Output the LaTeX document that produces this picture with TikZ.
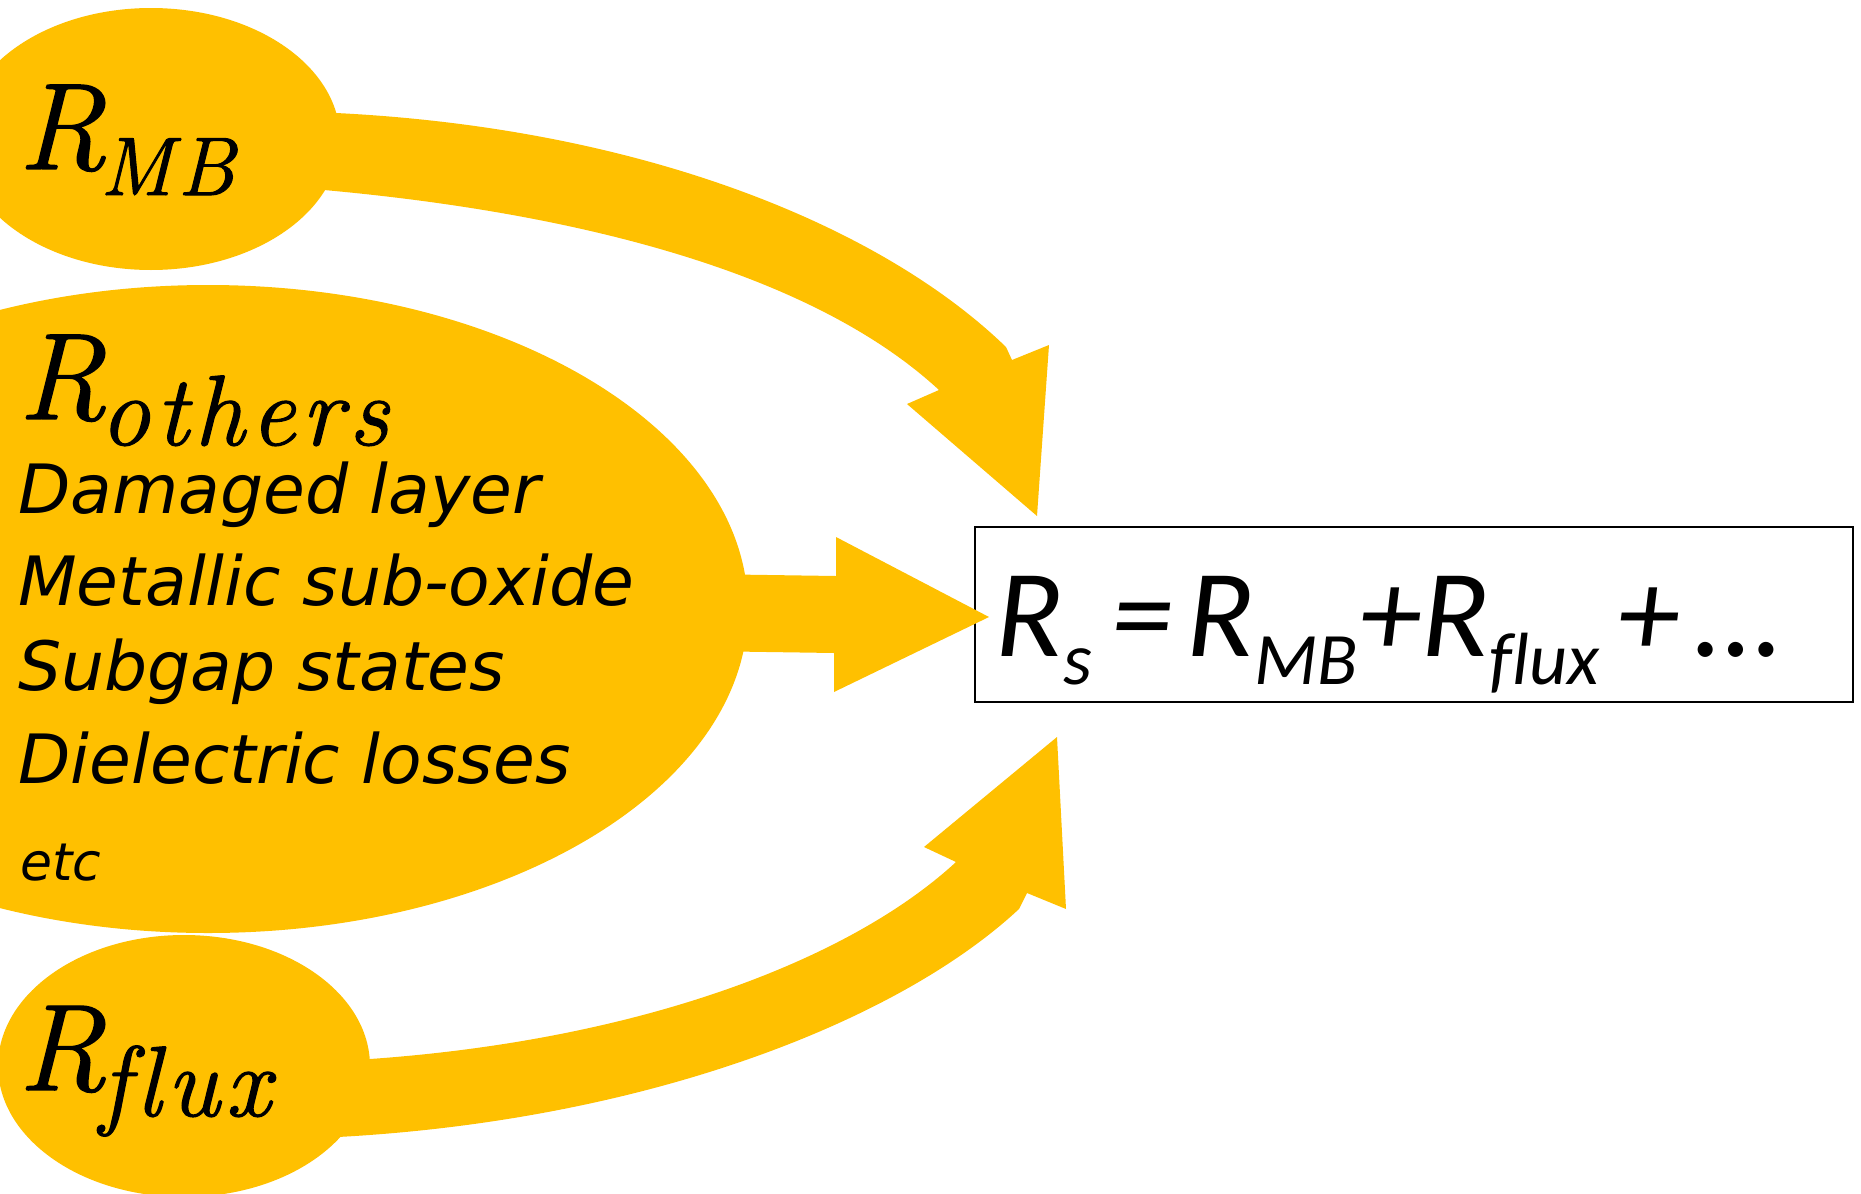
\documentclass[tikz,border=0pt]{standalone}
\usepackage{fontspec}
\usetikzlibrary{shapes.geometric}
\newfontfamily\carfont{Carlito}[Ligatures=NoCommon]
\newfontfamily\handfont{DejaVu Sans}
\newfontfamily\lmfont{Latin Modern Roman}[FakeBold=1.2,Ligatures=NoCommon]
\newfontfamily\lmsubfont{Latin Modern Roman}[FakeBold=1.2,LetterSpace=6,Ligatures=NoCommon]
\definecolor{gold}{HTML}{FFC000}
\newcommand\Rlab[2]{{\lmfont\itshape\fontsize{123}{123}\selectfont R}\kern-6pt\raisebox{-26pt}{\lmsubfont\itshape\fontsize{#1}{#1}\selectfont #2}}
\newcommand\fsub[1]{\raisebox{-28pt}{\fontsize{74}{74}\selectfont #1}}
\begin{document}
\begin{tikzpicture}[x=1pt,y=-1pt,
  blob/.style={ellipse, fill=gold, draw=none, inner sep=0pt},
  blockarrow/.style={fill=gold, draw=none},
  lbl/.style={anchor=base west, inner sep=0pt, text=black},
  hand/.style={lbl, font=\handfont\itshape\fontsize{68}{68}\selectfont}]
\useasboundingbox (0,0) rectangle (1861,1194);
% ellipses
\node[blob, minimum width=378pt, minimum height=262pt] (rmb) at (151,139) {};
\node[blob, minimum width=1080pt, minimum height=648pt] (roth) at (208,609) {};
\node[blob, minimum width=372pt, minimum height=262pt] (rflux) at (184,1066) {};
% result box
\node[draw, line width=2pt, minimum width=878pt, minimum height=175pt, inner sep=0pt, anchor=north west] (rs) at (974,526) {};
% block arrows
\fill[blockarrow] (280,110) -- (336,113) .. controls (640,128) and (880,225) .. (1006,347) -- (1012,360) -- (1049,345) -- (1037,516) -- (907,404) -- (939,390) .. controls (820,280) and (600,215) .. (324,190) -- (280,187) -- cycle;
\fill[blockarrow] (700,574) -- (836,576) -- (836,537) -- (989,617) -- (834,692) -- (834,653) -- (700,651) -- cycle;
\fill[blockarrow] (320,1061) -- (370,1059) .. controls (640,1040) and (850,960) .. (956,862) -- (924,847) -- (1057,737) -- (1066,909) -- (1027,893) -- (1019,909) .. controls (900,1020) and (650,1120) .. (338,1137) -- (290,1140) -- cycle;
% labels
\node[lbl] (tmb) at (18,169) {\Rlab{83}{MB}};
\node[lbl] (toth) at (18,419) {\Rlab{100}{others}};
\node[lbl] (tflux) at (18,1090) {\Rlab{100}{flux}};
\node[hand] (l1) at (18,513) {Damaged layer};
\node[hand] (l2) at (18,605) {Metallic sub-oxide};
\node[hand] (l3) at (18,690) {Subgap states};
\node[hand] (l4) at (18,783) {Dielectric losses};
\node[lbl, font=\handfont\itshape\fontsize{52}{52}\selectfont] (l5) at (20,880) {etc};
\node[lbl, font=\carfont\itshape\fontsize{125}{125}\selectfont] (formula) at (995,656)
  {R\fsub{s}\kern20pt=\kern12pt R\fsub{MB}\kern2pt+R\fsub{flux}\kern18pt+\kern16pt…};
\end{tikzpicture}
\end{document}
